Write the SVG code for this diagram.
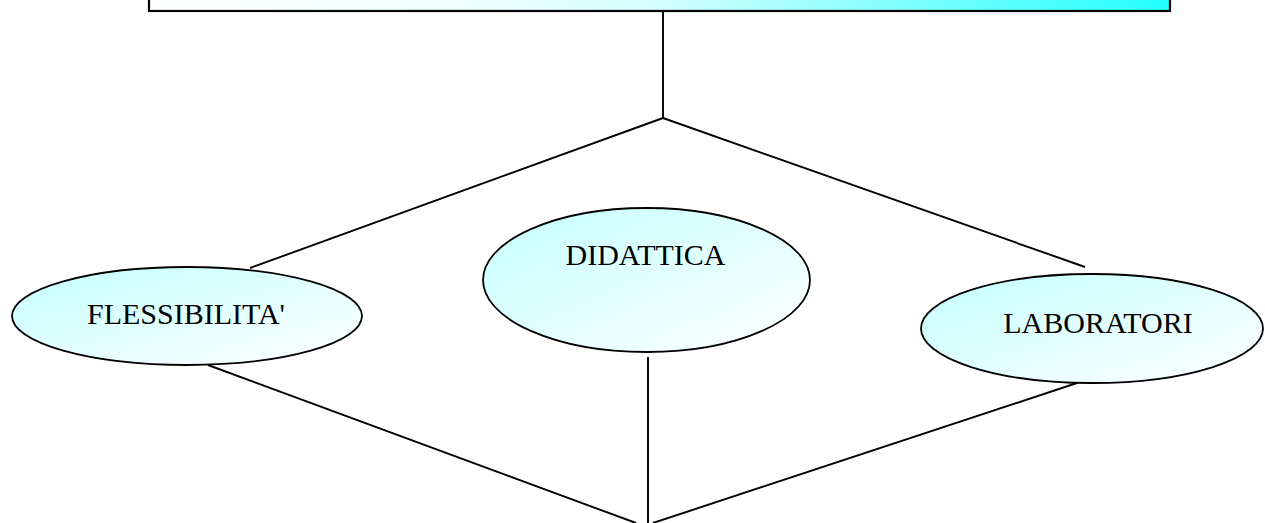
<svg xmlns="http://www.w3.org/2000/svg" width="1265" height="523" viewBox="0 0 1265 523">
  <defs>
    <linearGradient id="boxGrad" x1="0" y1="0" x2="1" y2="0">
      <stop offset="0" stop-color="#ffffff"/>
      <stop offset="0.3" stop-color="#f0ffff"/>
      <stop offset="0.5" stop-color="#d4ffff"/>
      <stop offset="1" stop-color="#22ffff"/>
    </linearGradient>
    <linearGradient id="ellGrad" x1="0" y1="0" x2="1" y2="1">
      <stop offset="0" stop-color="#c4ffff"/>
      <stop offset="1" stop-color="#ffffff"/>
    </linearGradient>
  </defs>
  <style>
    .node { fill: url(#ellGrad); stroke: #000; stroke-width: 1.8; }
    .lbl { font-family: "Liberation Serif", "Times New Roman", serif; font-size: 30px; fill: #000; text-anchor: middle; }
    .conn { stroke: #000; stroke-width: 1.9; fill: none; }
  </style>
  <rect width="1265" height="523" fill="#ffffff"/>
  <g id="top-box">
    <rect x="149" y="-50" width="1021" height="61" fill="url(#boxGrad)" stroke="#000" stroke-width="2.2"/>
  </g>
  <g id="connectors">
    <line class="conn" x1="663" y1="12" x2="663" y2="118"/>
    <line class="conn" x1="663" y1="118" x2="250" y2="268"/>
    <line class="conn" x1="663" y1="118" x2="1085" y2="267"/>
    <line class="conn" x1="208" y1="365" x2="636" y2="523"/>
    <line class="conn" x1="1077" y1="383" x2="653" y2="523"/>
    <line class="conn" x1="648" y1="357" x2="648" y2="523"/>
  </g>
  <g id="node-flessibilita">
    <ellipse class="node" cx="187" cy="316" rx="175" ry="49"/>
    <text class="lbl" x="186" y="324">FLESSIBILITA'</text>
  </g>
  <g id="node-didattica">
    <ellipse class="node" cx="646.5" cy="280" rx="163.5" ry="72"/>
    <text class="lbl" x="645.5" y="265">DIDATTICA</text>
  </g>
  <g id="node-laboratori">
    <ellipse class="node" cx="1092" cy="328.5" rx="171" ry="54.5"/>
    <text class="lbl" x="1098" y="333">LABORATORI</text>
  </g>
</svg>
